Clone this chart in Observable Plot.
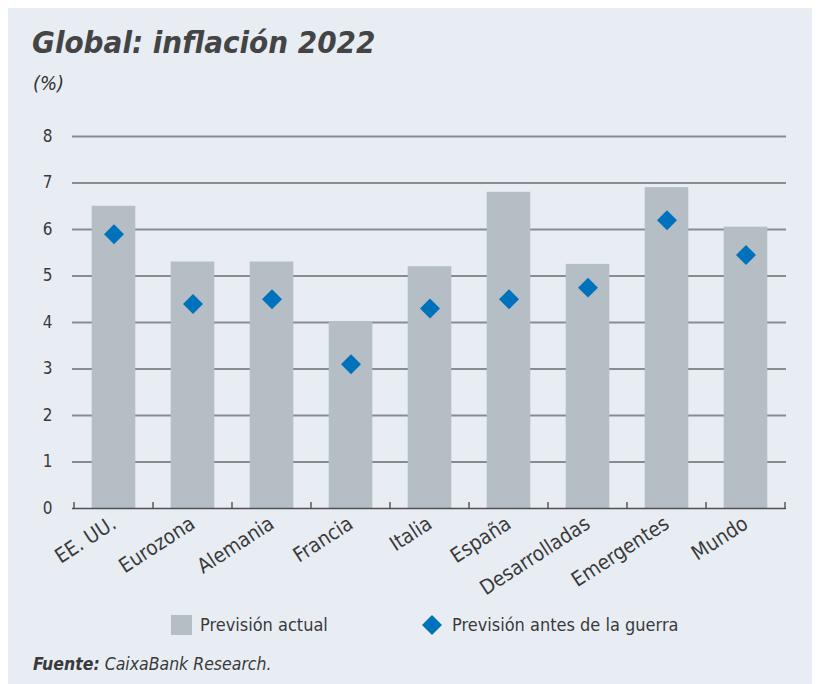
<!DOCTYPE html>
<html>
<head>
<meta charset="utf-8">
<script src="https://cdn.jsdelivr.net/npm/d3@7"></script>
<script src="https://cdn.jsdelivr.net/npm/@observablehq/plot@0.6"></script>
<style>
  html, body { margin: 0; padding: 0; background: #ffffff; }
  body { width: 820px; height: 684px; position: relative; overflow: hidden;
         font-family: "Liberation Sans Narrow", "DejaVu Sans Condensed", "Roboto", sans-serif; color: #3a3a3a; }
  #panel { position: absolute; left: 8px; top: 8px; width: 804px; height: 676px; background: #e8edf4; }
  #title { position: absolute; left: 32px; top: 24px; font-size: 31px; font-weight: bold; font-style: italic; color: #444444; line-height: 36px; white-space: nowrap; }
  #subtitle { position: absolute; left: 33px; top: 71px; font-size: 20px; font-style: italic; color: #333333; line-height: 24px; }
  #chart { position: absolute; left: 0; top: 100px; }
  .leg { position: absolute; top: 614px; height: 22px; line-height: 22px; font-size: 18px; color: #3a3a3a; white-space: nowrap; }
  #footer { position: absolute; left: 33px; top: 653px; font-size: 17.5px; font-style: italic; color: #3a3a3a; line-height: 22px; white-space: nowrap; }
</style>
</head>
<body>
<div id="panel"></div>
<div id="title">Global: inflación 2022</div>
<div id="subtitle">(%)</div>
<div id="chart"></div>
<div class="leg" style="left:171px;"><span style="display:inline-block;width:21px;height:20px;background:#b4bec4;vertical-align:-4px;margin-right:8px;"></span>Previsión actual</div>
<div class="leg" style="left:421px;"><svg width="22" height="22" style="vertical-align:-5px;margin-right:9px;"><path d="M11,1 L21,11 L11,21 L1,11 Z" fill="#0072bc"/></svg>Previsión antes de la guerra</div>
<div id="footer"><b>Fuente:</b> CaixaBank Research.</div>
<script>
const categories = ["EE. UU.", "Eurozona", "Alemania", "Francia", "Italia", "España", "Desarrolladas", "Emergentes", "Mundo"];
const previsionActual = [6.5, 5.3, 5.3, 4.0, 5.2, 6.8, 5.25, 6.9, 6.05];
const previsionAntesGuerra = [5.9, 4.4, 4.5, 3.1, 4.3, 4.5, 4.75, 6.2, 5.45];
const yTicks = [0, 1, 2, 3, 4, 5, 6, 7, 8];

const data = categories.map((c, i) => ({cat: c, actual: previsionActual[i], antes: previsionAntesGuerra[i]}));
const font = '"Liberation Sans Narrow", "DejaVu Sans Condensed", "Roboto", sans-serif';

const chart = Plot.plot({
  width: 820,
  height: 498,
  marginLeft: 72,
  marginRight: 34,
  marginTop: 36,
  marginBottom: 90,
  style: {background: "transparent", fontFamily: font, fontSize: "17px", color: "#3a3a3a", overflow: "visible"},
  x: {domain: categories, padding: 0, label: null},
  y: {domain: [0, 8], label: null},
  marks: [
    Plot.ruleY(yTicks.filter(d => d > 0), {stroke: "#878c91", strokeWidth: 1.8}),
    Plot.barY(data, {x: "cat", y: "actual", fill: "#b4bec4", insetLeft: 17.7, insetRight: 17.7}),
    Plot.ruleY([0], {stroke: "#505050", strokeWidth: 1.6}),
    Plot.dot(data, {x: "cat", y: "antes", symbol: "diamond2", r: 9, fill: "#0072bc", stroke: "none"}),
    Plot.axisY({ticks: yTicks, tickSize: 0, tickPadding: 20, label: null, fontSize: 17}),
    Plot.axisX({tickSize: 0, tickRotate: -33, tickPadding: 13, label: null, fontSize: 20.5})
  ]
});
document.getElementById("chart").appendChild(chart);

// small axis ticks at band boundaries, derived from the x and y scales
const xs = chart.scale("x");
const ys = chart.scale("y");
const y0 = ys.apply(0);
const g = d3.select(chart).append("g").attr("stroke", "#505050").attr("stroke-width", 1.4);
for (let i = 0; i <= categories.length; i++) {
  const xb = i < categories.length ? xs.apply(categories[i]) : xs.apply(categories[categories.length - 1]) + xs.bandwidth;
  g.append("line").attr("x1", xb).attr("x2", xb).attr("y1", y0).attr("y2", y0 - 6);
}
</script>
</body>
</html>
